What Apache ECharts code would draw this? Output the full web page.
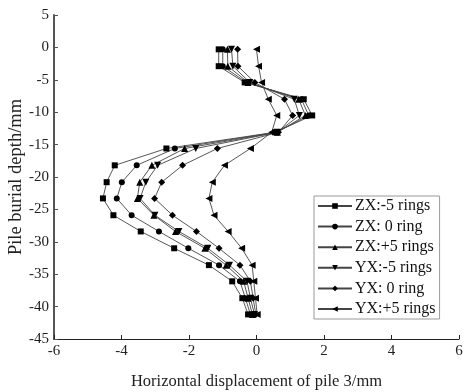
<!DOCTYPE html>
<html><head><meta charset="utf-8">
<script src="https://cdn.jsdelivr.net/npm/echarts@6/dist/echarts.min.js"></script>
<style>html,body{margin:0;padding:0;background:#fff}#c{width:464px;height:392px}</style>
</head><body><div id="c"></div>
<script>
var depths = [-0.3, -2.9, -5.4, -8.0, -10.5, -13.1, -15.6, -18.2, -20.8, -23.3, -25.9, -28.4, -31.0, -33.6, -36.1, -38.7, -41.2];
var seriesNames = ['ZX:-5 rings', 'ZX: 0 ring', 'ZX:+5 rings', 'YX:-5 rings', 'YX: 0 ring', 'YX:+5 rings'];
var zxMinus5 = [-1.12, -1.12, -0.35, 1.40, 1.65, 0.55, -2.67, -4.20, -4.44, -4.55, -4.24, -3.43, -2.44, -1.41, -0.72, -0.42, -0.25];
var zx0      = [-1.00, -1.00, -0.30, 1.33, 1.55, 0.58, -2.42, -3.55, -3.99, -4.14, -3.70, -2.89, -2.02, -1.11, -0.49, -0.33, -0.18];
var zxPlus5  = [-0.86, -0.85, -0.25, 1.25, 1.45, 0.62, -2.13, -3.10, -3.46, -3.53, -3.04, -2.40, -1.53, -0.90, -0.38, -0.25, -0.12];
var yxMinus5 = [-0.74, -0.70, -0.20, 1.12, 1.27, 0.62, -1.80, -2.93, -3.28, -3.45, -3.01, -2.30, -1.44, -0.80, -0.28, -0.18, -0.06];
var yx0      = [-0.56, -0.55, -0.05, 0.83, 1.07, 0.65, -1.16, -2.19, -2.81, -3.02, -2.49, -1.78, -1.11, -0.49, -0.18, -0.10, -0.02];
var yxPlus5  = [0.00, 0.06, 0.15, 0.35, 0.60, 0.45, -0.18, -0.95, -1.31, -1.41, -1.26, -0.84, -0.44, -0.13, -0.08, -0.03, 0.02];
var xTicks = [-6, -4, -2, 0, 2, 4, 6];
var yTicks = [5, 0, -5, -10, -15, -20, -25, -30, -35, -40, -45];

var values = [zxMinus5, zx0, zxPlus5, yxMinus5, yx0, yxPlus5];
var symbols = ['rect', 'circle', 'triangle', 'triangle', 'diamond', 'triangle'];
var rotations = [0, 0, 0, 180, 0, 90];
var sizes = [6, 6, 7, 7, 7, 7];

var chart = echarts.init(document.getElementById('c'));
var font = '"Liberation Serif", "Times New Roman", serif';
var series = values.map(function (vals, i) {
  return {
    name: seriesNames[i],
    type: 'line',
    data: vals.map(function (v, k) { return [v, depths[k]]; }),
    symbol: symbols[i],
    symbolRotate: rotations[i],
    symbolSize: sizes[i],
    showAllSymbol: true,
    lineStyle: { color: '#444', width: 0.9 },
    itemStyle: { color: '#000', borderWidth: 0 },
    emphasis: { disabled: true },
    animation: false
  };
});
chart.setOption({
  backgroundColor: '#fff',
  animation: false,
  textStyle: { fontFamily: font },
  grid: { left: 54, right: 5, top: 15, bottom: 53, containLabel: false, outerBoundsMode: 'none' },
  xAxis: {
    type: 'value', min: xTicks[0], max: xTicks[xTicks.length - 1], interval: 2,
    name: 'Horizontal displacement of pile 3/mm', nameLocation: 'middle', nameGap: 34,
    nameMoveOverlap: false,
    nameTextStyle: { fontFamily: font, fontSize: 16.5, color: '#222' },
    axisLine: { onZero: false, lineStyle: { color: '#222', width: 1.2 } },
    axisTick: { inside: true, length: 4, lineStyle: { color: '#222' } },
    axisLabel: { fontFamily: font, fontSize: 15, color: '#222', margin: 5 },
    splitLine: { show: false }
  },
  yAxis: {
    type: 'value', min: yTicks[yTicks.length - 1], max: yTicks[0], interval: 5,
    name: 'Pile burial depth/mm', nameLocation: 'middle', nameGap: 28,
    nameMoveOverlap: false,
    nameTextStyle: { fontFamily: font, fontSize: 18.5, color: '#222' },
    axisLine: { onZero: false, lineStyle: { color: '#555', width: 2 } },
    axisTick: { inside: true, length: 4, lineStyle: { color: '#555' } },
    axisLabel: { fontFamily: font, fontSize: 15, color: '#222', margin: 5 },
    splitLine: { show: false }
  },
  legend: {
    orient: 'vertical', left: 314, top: 196,
    data: seriesNames,
    itemWidth: 34, itemHeight: 7, itemGap: 4.6,
    padding: [2, 4, 2, 3],
    borderColor: '#999', borderWidth: 1, borderRadius: 0,
    textStyle: { fontFamily: font, fontSize: 16, color: '#111', padding: [0, 0, 0, -2] }
  },
  series: series
});
</script></body></html>
